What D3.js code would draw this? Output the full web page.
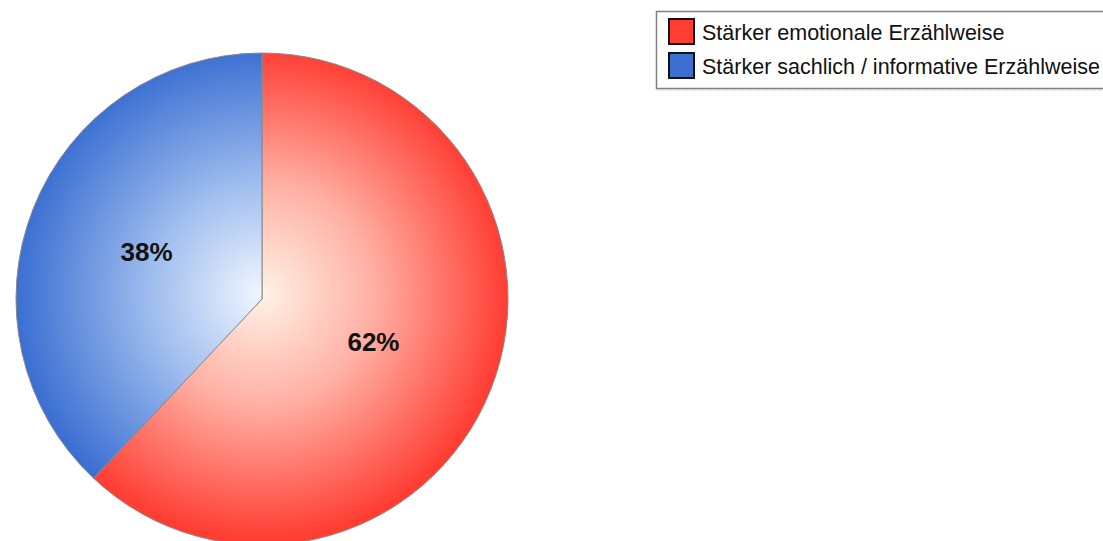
<!DOCTYPE html>
<html>
<head>
<meta charset="utf-8">
<script src="https://cdn.jsdelivr.net/npm/d3@7"></script>
<style>
  body { margin: 0; background: #fff; }
  text { font-family: "Liberation Sans", Arial, sans-serif; }
</style>
</head>
<body>
<div id="chart"></div>
<script>
// pie chart: emotional vs. factual storytelling

var width = 1103,
    height = 541;

var categories = ["Stärker emotionale Erzählweise", "Stärker sachlich / informative Erzählweise"];
var values = [62, 38];
var labels = ["62%", "38%"];
var edgeColors = ["#ff3d33", "#3b6fd2"];
var midColors = ["#ffb0a4", "#9fbdee"];
var innerColors = ["#fff2e6", "#f2f6ff"];

var svg = d3.select("#chart").append("svg")
    .attr("width", width)
    .attr("height", height);

var cx = 262, cy = 299, radius = 246;

// radial gradients, one per slice
var defs = svg.append("defs");
categories.forEach(function(c, i) {
    var g = defs.append("radialGradient")
        .attr("id", "grad" + i)
        .attr("gradientUnits", "userSpaceOnUse")
        .attr("cx", 0).attr("cy", -5)
        .attr("r", radius);
    g.append("stop").attr("offset", "0%").attr("stop-color", innerColors[i]);
    g.append("stop").attr("offset", "45%").attr("stop-color", midColors[i]);
    g.append("stop").attr("offset", "100%").attr("stop-color", edgeColors[i]);
});

var pie = d3.pie().sort(null).value(function(d) { return d; });
var arc = d3.arc().innerRadius(0).outerRadius(radius);
var labelArc = d3.arc().innerRadius(122).outerRadius(122);

var g = svg.append("g").attr("transform", "translate(" + cx + "," + cy + ")");

var arcs = pie(values);

g.selectAll("path")
    .data(arcs)
    .enter().append("path")
    .attr("d", arc)
    .attr("fill", function(d, i) { return "url(#grad" + i + ")"; })
    .attr("stroke", "#8a8a8a")
    .attr("stroke-width", 1);

g.selectAll("text")
    .data(arcs)
    .enter().append("text")
    .attr("transform", function(d) { return "translate(" + labelArc.centroid(d) + ")"; })
    .attr("x", -2)
    .attr("text-anchor", "middle")
    .attr("dy", "0.28em")
    .attr("font-size", 26)
    .attr("font-weight", "bold")
    .attr("fill", "#111")
    .text(function(d, i) { return labels[i]; });

// legend
var legend = svg.append("g").attr("transform", "translate(656,11)");

legend.append("rect")
    .attr("x", 0.5).attr("y", 0.5)
    .attr("width", 470).attr("height", 77)
    .attr("fill", "#fff")
    .attr("stroke", "#808080")
    .attr("stroke-width", 1.5);

legend.append("line")
    .attr("x1", 1).attr("x2", 470)
    .attr("y1", 79).attr("y2", 79)
    .attr("stroke", "#b0b0a0")
    .attr("stroke-dasharray", "1,1");

var item = legend.selectAll(".item")
    .data(categories)
    .enter().append("g")
    .attr("class", "item")
    .attr("transform", function(d, i) { return "translate(13," + (8 + i * 34) + ")"; });

item.append("rect")
    .attr("width", 25).attr("height", 25)
    .attr("fill", function(d, i) { return edgeColors[i]; })
    .attr("stroke", "#111")
    .attr("stroke-width", 2);

item.append("text")
    .attr("x", 33)
    .attr("y", 13)
    .attr("dy", "0.36em")
    .attr("font-size", 21.5)
    .attr("fill", "#111")
    .text(function(d) { return d; });
</script>
</body>
</html>
